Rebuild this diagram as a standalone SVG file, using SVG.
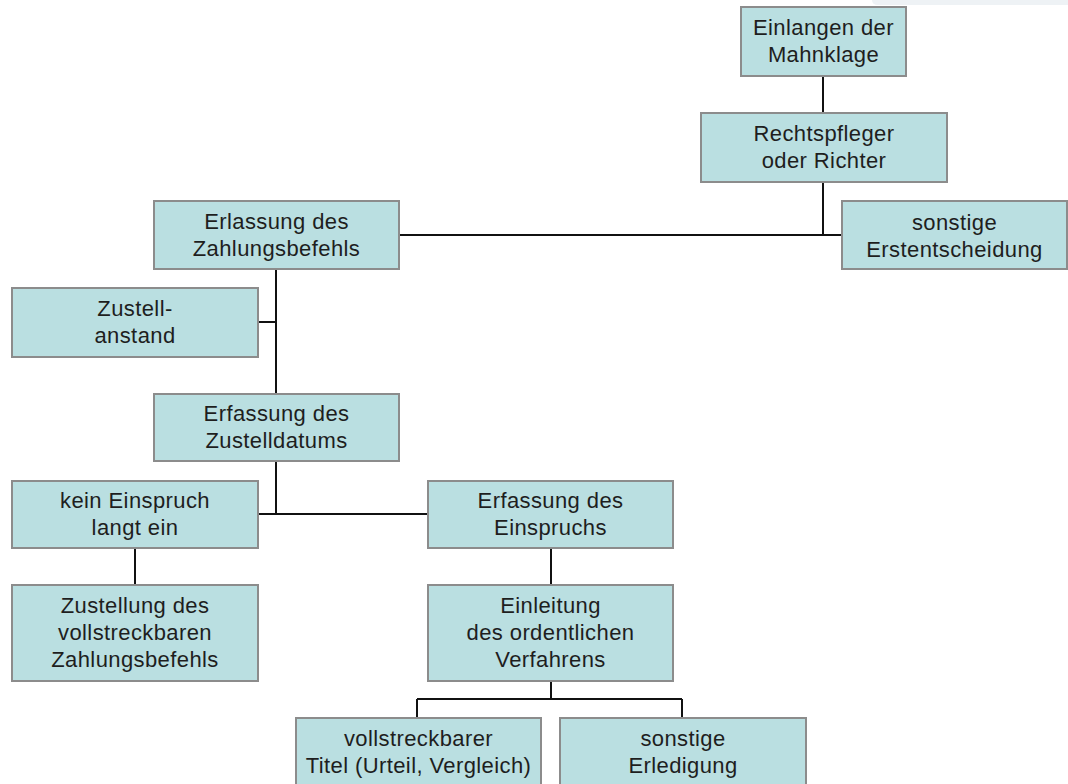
<svg xmlns="http://www.w3.org/2000/svg" width="1068" height="784" viewBox="0 0 1068 784">
<style>
.box rect{fill:#badfe1;stroke:#8c8c8c;stroke-width:2}
.box text{font-family:"Liberation Sans",Arial,sans-serif;font-size:22px;letter-spacing:0.4px;fill:#1e1e1e;text-anchor:middle}
#connectors path{fill:none;stroke:#111;stroke-width:2}
</style>
<rect width="1068" height="784" fill="#ffffff"/>
<path d="M872 0 H1068 V5 H878 Q872 5 872 0 Z" fill="#eef2f5"/>
<g id="connectors">
<path d="M823 76 V113"/>
<path d="M823 182 V235 M399 235 H842"/>
<path d="M276 269 V394 M258 322 H276"/>
<path d="M276 461 V514 M258 514 H428"/>
<path d="M135 548 V585"/>
<path d="M551 548 V585"/>
<path d="M551 681 V699 M417 699 H682 M417 699 V718 M682 699 V718"/>
</g>
<g id="n1" class="box"><rect x="741" y="7" width="165" height="69"/><text x="823.5" y="35">Einlangen der</text><text x="823.5" y="62">Mahnklage</text></g>
<g id="n2" class="box"><rect x="701" y="113" width="246" height="69"/><text x="824" y="141">Rechtspfleger</text><text x="824" y="168">oder Richter</text></g>
<g id="n3" class="box"><rect x="842" y="201" width="225" height="68"/><text x="954.5" y="230">sonstige</text><text x="954.5" y="257">Erstentscheidung</text></g>
<g id="n4" class="box"><rect x="154" y="201" width="245" height="68"/><text x="276.5" y="229">Erlassung des</text><text x="276.5" y="256">Zahlungsbefehls</text></g>
<g id="n5" class="box"><rect x="12" y="288" width="246" height="69"/><text x="135" y="316">Zustell-</text><text x="135" y="343">anstand</text></g>
<g id="n6" class="box"><rect x="154" y="394" width="245" height="67"/><text x="276.5" y="421">Erfassung des</text><text x="276.5" y="448">Zustelldatums</text></g>
<g id="n7" class="box"><rect x="12" y="481" width="246" height="67"/><text x="135" y="508">kein Einspruch</text><text x="135" y="535">langt ein</text></g>
<g id="n8" class="box"><rect x="428" y="481" width="245" height="67"/><text x="550.5" y="508">Erfassung des</text><text x="550.5" y="535">Einspruchs</text></g>
<g id="n9" class="box"><rect x="12" y="585" width="246" height="96"/><text x="135" y="613">Zustellung des</text><text x="135" y="640">vollstreckbaren</text><text x="135" y="667">Zahlungsbefehls</text></g>
<g id="n10" class="box"><rect x="428" y="585" width="245" height="96"/><text x="550.5" y="613">Einleitung</text><text x="550.5" y="640">des ordentlichen</text><text x="550.5" y="667">Verfahrens</text></g>
<g id="n11" class="box"><rect x="296" y="718" width="245" height="72"/><text x="418.5" y="746">vollstreckbarer</text><text x="418.5" y="773">Titel (Urteil, Vergleich)</text></g>
<g id="n12" class="box"><rect x="560" y="718" width="246" height="72"/><text x="683" y="746">sonstige</text><text x="683" y="773">Erledigung</text></g>
</svg>
